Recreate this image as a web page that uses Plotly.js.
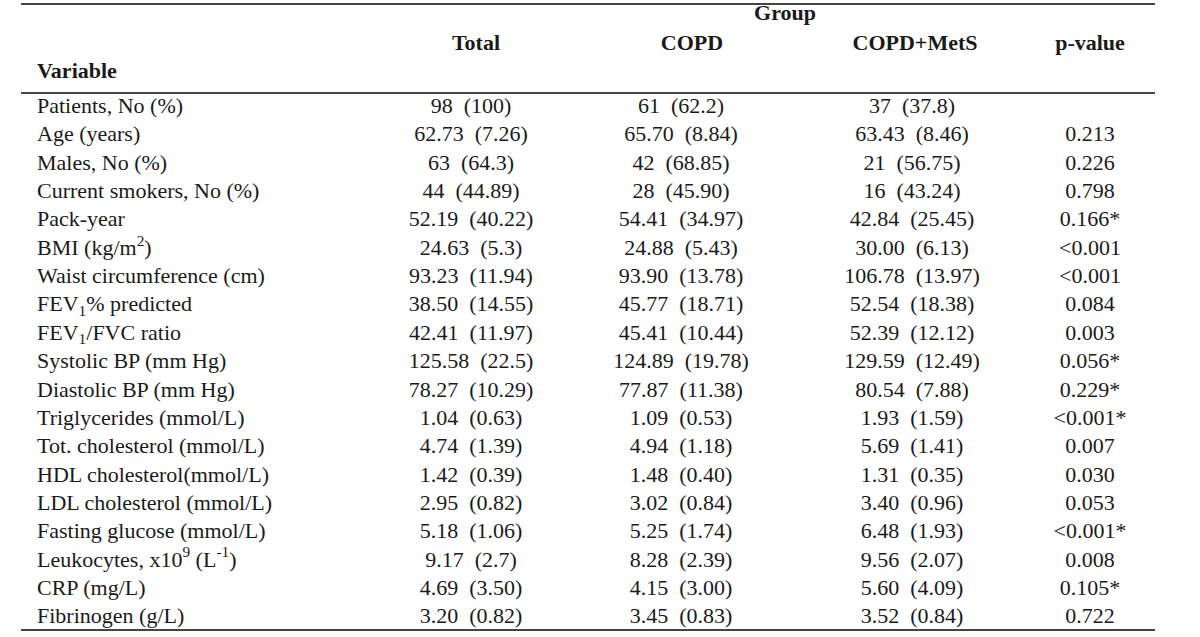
<!DOCTYPE html>
<html>
<head>
<meta charset="utf-8">
<script src="https://cdn.plot.ly/plotly-3.0.1.min.js"></script>
<style>
  html, body { margin: 0; padding: 0; background: #ffffff; }
  #chart { width: 1200px; height: 637px; }
</style>
</head>
<body>
<div id="chart"></div>
<script>
// ---- Data ----
const variables = [
  "Patients, No (%)",
  "Age (years)",
  "Males, No (%)",
  "Current smokers, No (%)",
  "Pack-year",
  "BMI (kg/m<sup>2</sup>)",
  "Waist circumference (cm)",
  "FEV<sub>1</sub>% predicted",
  "FEV<sub>1</sub>/FVC ratio",
  "Systolic BP (mm Hg)",
  "Diastolic BP (mm Hg)",
  "Triglycerides (mmol/L)",
  "Tot. cholesterol (mmol/L)",
  "HDL cholesterol(mmol/L)",
  "LDL cholesterol (mmol/L)",
  "Fasting glucose (mmol/L)",
  "Leukocytes, x10<sup>9</sup> (L<sup>-1</sup>)",
  "CRP (mg/L)",
  "Fibrinogen (g/L)"
];
const totalValues = [
  "98 (100)", "62.73 (7.26)", "63 (64.3)", "44 (44.89)", "52.19 (40.22)",
  "24.63 (5.3)", "93.23 (11.94)", "38.50 (14.55)", "42.41 (11.97)",
  "125.58 (22.5)", "78.27 (10.29)", "1.04 (0.63)", "4.74 (1.39)",
  "1.42 (0.39)", "2.95 (0.82)", "5.18 (1.06)", "9.17 (2.7)",
  "4.69 (3.50)", "3.20 (0.82)"
];
const copdValues = [
  "61 (62.2)", "65.70 (8.84)", "42 (68.85)", "28 (45.90)", "54.41 (34.97)",
  "24.88 (5.43)", "93.90 (13.78)", "45.77 (18.71)", "45.41 (10.44)",
  "124.89 (19.78)", "77.87 (11.38)", "1.09 (0.53)", "4.94 (1.18)",
  "1.48 (0.40)", "3.02 (0.84)", "5.25 (1.74)", "8.28 (2.39)",
  "4.15 (3.00)", "3.45 (0.83)"
];
const copdMetsValues = [
  "37 (37.8)", "63.43 (8.46)", "21 (56.75)", "16 (43.24)", "42.84 (25.45)",
  "30.00 (6.13)", "106.78 (13.97)", "52.54 (18.38)", "52.39 (12.12)",
  "129.59 (12.49)", "80.54 (7.88)", "1.93 (1.59)", "5.69 (1.41)",
  "1.31 (0.35)", "3.40 (0.96)", "6.48 (1.93)", "9.56 (2.07)",
  "5.60 (4.09)", "3.52 (0.84)"
];
const pValues = [
  "", "0.213", "0.226", "0.798", "0.166*",
  "<0.001", "<0.001", "0.084", "0.003",
  "0.056*", "0.229*", "<0.001*", "0.007",
  "0.030", "0.053", "<0.001*", "0.008",
  "0.105*", "0.722"
];
const headerLabels = ["Variable", "Total", "COPD", "COPD+MetS", "p-value"];
const groupLabel = "Group";

// ---- Layout constants (pixel-like x units, row units on y) ----
const W = 1200, H = 637;
const rowTopPx = 107.5, rowStep = 28.35;
const toRow = px => (px - rowTopPx) / rowStep;
const colVarX = 37;
const colValX = [471, 681, 912, 1090];
const headerX = [37, 476, 692, 915, 1090];
const headerY = [toRow(72), toRow(44), toRow(44), toRow(44), toRow(44)];
const groupX = 785, groupY = toRow(14);
const ruleY = [4, 93, 630];
const ruleX0 = 21, ruleX1 = 1155;

const FONT = "'Liberation Serif', 'Times New Roman', serif";
const TXT = "#1a1a1a";
const fmt = s => s.replace(" (", "\u00a0\u00a0(");
const rowIdx = variables.map((_, i) => i);
const pRows = rowIdx.filter(i => pValues[i] !== "");

const baseText = (x, y, text, pos, bold) => ({
  type: "scatter",
  mode: "text",
  x: x, y: y,
  text: bold ? text.map(t => "<b>" + t + "</b>") : text,
  textposition: pos,
  textfont: { family: FONT, size: 22, color: TXT },
  hoverinfo: "skip",
  showlegend: false,
  cliponaxis: false
});

const traces = [
  baseText(rowIdx.map(() => colVarX), rowIdx, variables, "middle right", false),
  baseText(rowIdx.map(() => colValX[0]), rowIdx, totalValues.map(fmt), "middle center", false),
  baseText(rowIdx.map(() => colValX[1]), rowIdx, copdValues.map(fmt), "middle center", false),
  baseText(rowIdx.map(() => colValX[2]), rowIdx, copdMetsValues.map(fmt), "middle center", false),
  baseText(pRows.map(() => colValX[3]), pRows, pRows.map(i => pValues[i]), "middle center", false),
  baseText([headerX[0]], [headerY[0]], [headerLabels[0]], "middle right", true),
  baseText(headerX.slice(1), headerY.slice(1), headerLabels.slice(1), "middle center", true),
  baseText([groupX], [groupY], [groupLabel], "middle center", true)
];

const shapes = ruleY.map(py => ({
  type: "line", xref: "x", yref: "paper",
  x0: ruleX0, x1: ruleX1, y0: 1 - py / H, y1: 1 - py / H,
  line: { color: "#444444", width: 2 }
}));

const layout = {
  width: W, height: H,
  margin: { l: 0, r: 0, t: 0, b: 0, pad: 0 },
  paper_bgcolor: "#ffffff", plot_bgcolor: "#ffffff",
  xaxis: { range: [0, W], visible: false, fixedrange: true },
  yaxis: { range: [toRow(H), toRow(0)], visible: false, fixedrange: true },
  shapes: shapes,
  showlegend: false
};

Plotly.newPlot("chart", traces, layout, { displayModeBar: false, staticPlot: true });
</script>
</body>
</html>
